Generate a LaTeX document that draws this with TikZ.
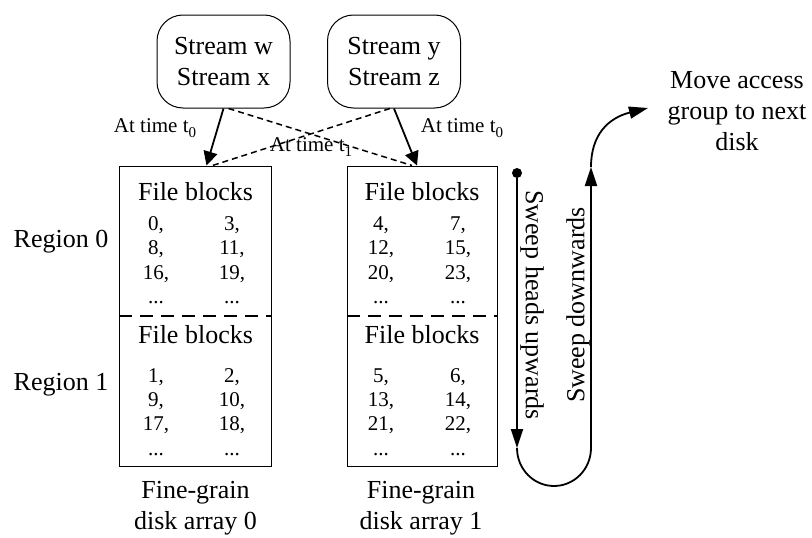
\documentclass[tikz,border=0pt]{standalone}
\usepackage{fontspec}
\setmainfont{Liberation Serif}
\usetikzlibrary{arrows.meta,calc}
\newcommand{\lowsub}[1]{\raisebox{-0.45ex}{\fontsize{15}{15}\selectfont #1}}
\begin{document}
\begin{tikzpicture}[x=1pt,y=-1pt,
  big/.style={font=\fontsize{26}{31}\selectfont},
  small/.style={font=\fontsize{21}{24}\selectfont},
  streambox/.style={draw,line width=1pt,rounded corners=26pt,minimum width=133pt,minimum height=93pt,inner sep=0pt},
  diskbox/.style={draw,line width=1pt,minimum height=300pt,inner sep=0pt},
  solidarrow/.style={line width=1.8pt,-{Triangle[length=14pt,width=14pt]}},
  dasharrow/.style={line width=1.5pt,dash pattern=on 6pt off 4pt},
  sweep/.style={line width=1.8pt},
  sweeptip/.style={line width=1.8pt,-{Triangle[length=19pt,width=12pt]}},
  regsep/.style={line width=1.2pt,dash pattern=on 13pt off 8pt},
  cell/.style={small,anchor=base,inner sep=0pt},
  head/.style={big,anchor=base,inner sep=0pt}]
\useasboundingbox (0,0) rectangle (812,538);

% stream boxes
\node[streambox,big,align=center] (sA) at (223.5,61.5) {Stream w\\Stream x};
\node[streambox,big,align=center] (sB) at (394,61.5) {Stream y\\Stream z};

% disk boxes
\node[diskbox,minimum width=152pt] (dA) at (195.5,316) {};
\node[diskbox,minimum width=150pt] (dB) at (422,316) {};

% region separators
\draw[regsep] (dA.west |- 0,316) -- (dA.east |- 0,316);
\draw[regsep] (dB.west |- 0,316) -- (dB.east |- 0,316);

% connectors
\draw[dasharrow] ([xshift=5pt]sA.south) -- ([xshift=-10pt]dB.north);
\draw[dasharrow] ([xshift=-4pt]sB.south) -- ([xshift=17pt]dA.north);
\draw[solidarrow] (sA.south) -- ([xshift=11pt]dA.north);
\draw[solidarrow] (sB.south) -- ([xshift=-5pt]dB.north);

\node[small] (l0a) at (155,128) {At time t\lowsub{0}};
\node[small] (l0b) at (462,128) {At time t\lowsub{0}};
\node[small] (l1) at (311,147) {At time t\lowsub{1}};

% contents of disk array 0
\node[head] (fa0) at (195.5,200) {File blocks};
\node[cell] (a00) at (156,230) {0,};   \node[cell] (a01) at (232,230) {3,};
\node[cell] (a10) at (156,254) {8,};   \node[cell] (a11) at (232,254) {11,};
\node[cell] (a20) at (156,279) {16,};  \node[cell] (a21) at (232,279) {19,};
\node[cell] (a30) at (156,303) {...};  \node[cell] (a31) at (232,303) {...};
\node[head] (fa1) at (195.5,343) {File blocks};
\node[cell] (b00) at (156,382) {1,};   \node[cell] (b01) at (232,382) {2,};
\node[cell] (b10) at (156,406) {9,};   \node[cell] (b11) at (232,406) {10,};
\node[cell] (b20) at (156,430) {17,};  \node[cell] (b21) at (232,430) {18,};
\node[cell] (b30) at (156,455) {...};  \node[cell] (b31) at (232,455) {...};

% contents of disk array 1
\node[head] (fb0) at (422,200) {File blocks};
\node[cell] (c00) at (381,230) {4,};   \node[cell] (c01) at (458,230) {7,};
\node[cell] (c10) at (381,254) {12,};  \node[cell] (c11) at (458,254) {15,};
\node[cell] (c20) at (381,279) {20,};  \node[cell] (c21) at (458,279) {23,};
\node[cell] (c30) at (381,303) {...};  \node[cell] (c31) at (458,303) {...};
\node[head] (fb1) at (422,343) {File blocks};
\node[cell] (e00) at (381,382) {5,};   \node[cell] (e01) at (458,382) {6,};
\node[cell] (e10) at (381,406) {13,};  \node[cell] (e11) at (458,406) {14,};
\node[cell] (e20) at (381,430) {21,};  \node[cell] (e21) at (458,430) {22,};
\node[cell] (e30) at (381,455) {...};  \node[cell] (e31) at (458,455) {...};

% region labels
\node[big] (r0) at (61,242) {Region 0};
\node[big] (r1) at (61,385) {Region 1};

% captions
\node[big,align=center] (capA) at (195.5,508) {Fine-grain\\disk array 0};
\node[big,align=center] (capB) at (421,508) {Fine-grain\\disk array 1};

% sweep path
\node[circle,fill,inner sep=0pt,minimum size=10pt] (dot) at (517,173) {};
\coordinate (u1) at (517,448);
\coordinate (u2) at (591,448);
\coordinate (u3) at (591,167);
\coordinate (u4) at (648,108);
\draw[sweeptip] (dot) -- (u1);
\draw[sweep] (u1) arc[start angle=180,end angle=0,x radius=37pt,y radius=-38pt];
\draw[sweeptip] (u2) -- (u3);
\draw[sweeptip] (u3) .. controls (591,135) and (608,118) .. (u4);

\node[big,rotate=-90] (swu) at (532,305) {Sweep heads upwards};
\node[big,rotate=90] (swd) at (578,305) {Sweep downwards};
\node[big,align=center] (move) at (737,111) {Move access\\group to next\\disk};
\end{tikzpicture}
\end{document}
